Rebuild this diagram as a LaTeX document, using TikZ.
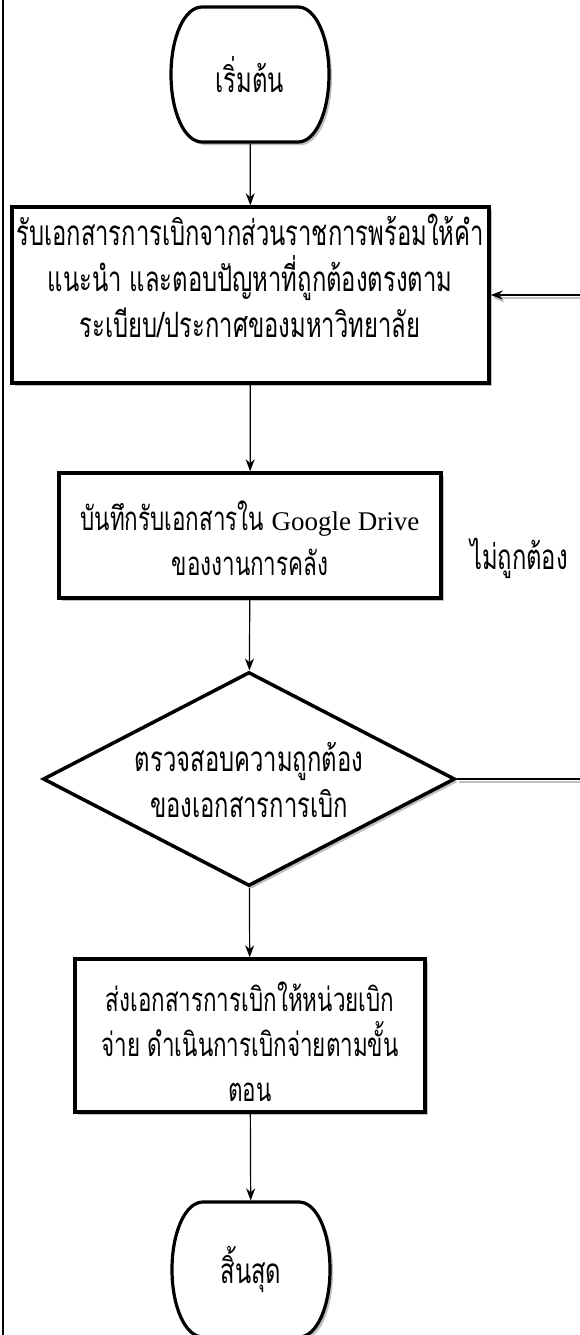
\documentclass[tikz,border=0pt]{standalone}
\usepackage{fontspec}
\newfontfamily\thai[Script=Thai,FakeStretch=0.68]{Loma}
\newfontfamily\latin{Liberation Serif}
\usetikzlibrary{arrows.meta,shadows,shapes.geometric,calc}
\newcommand\flowterm[3]{%
  \begin{scope}[shift={#1}]
    \draw[termline] (-48,-67.5) -- (48,-67.5)
      .. controls (65.7,-67.5) and (79,-37.3) .. (79,0)
      .. controls (79,37.3) and (65.7,67.5) .. (48,67.5)
      -- (-48,67.5)
      .. controls (-65.7,67.5) and (-79,37.3) .. (-79,0)
      .. controls (-79,-37.3) and (-65.7,-67.5) .. (-48,-67.5) -- cycle;
    \node[termnode] (#2) at (0,0) {#3};
  \end{scope}}
\begin{document}
\begin{tikzpicture}[x=1pt,y=-1pt,
  thaitext/.style={font=\thai\fontsize{35}{46}\selectfont,align=center},
  smallthai/.style={font=\thai\fontsize{33}{45}\selectfont,align=center},
  shadowed/.style={drop shadow={shadow xshift=3pt,shadow yshift=-3pt,fill=black!25,opacity=1}},
  termline/.style={draw=black,line width=3.2pt,fill=white,shadowed},
  termnode/.style={thaitext,draw=none,minimum width=158pt,minimum height=135pt,inner sep=0pt,outer sep=1.6pt},
  procbox/.style={draw=black,line width=3.5pt,fill=white,shadowed,inner sep=0pt},
  decision/.style={diamond,draw=black,line width=3.5pt,fill=white,shadowed,inner sep=0pt,aspect=1.93},
  arr/.style={draw=black,line width=1.2pt,-{Stealth[length=12pt,width=9pt]}},
  fb/.style={draw=black,line width=1.4pt,-{Stealth[length=12pt,width=9pt]},
    preaction={draw=black!25,line width=2pt,transform canvas={xshift=2pt,yshift=-3pt}}},
  lbl/.style={thaitext,inner sep=0pt},
  slbl/.style={smallthai,inner sep=0pt}
]
\useasboundingbox (0,0) rectangle (580,1335);
\clip (0,0) rectangle (580,1335);
\fill[white] (0,0) rectangle (580,1335);
\draw[line width=2.5pt] (3,0) -- (3,1335);

\flowterm{(250,74.5)}{start}{เริ่มต้น}

\node[procbox,minimum width=477pt,minimum height=176pt] (b1) at (250.5,295) {};
\node[lbl] (b1text) at (250,276)
  {รับเอกสารการเบิกจากส่วนราชการพร้อมให้คำ\\แนะนำ และตอบปัญหาที่ถูกต้องตรงตาม\\ระเบียบ/ประกาศของมหาวิทยาลัย};

\node[procbox,minimum width=382pt,minimum height=125pt] (b2) at (250,535.5) {};
\node[slbl] (b2text) at (250,538)
  {บันทึกรับเอกสารใน {\latin\fontsize{27}{45}\selectfont Google Drive}\\ของงานการคลัง};

\node[decision,minimum width=412pt,minimum height=214pt] (d) at (249,779) {};
\node[lbl] (dtext) at (249,780) {ตรวจสอบความถูกต้อง\\ของเอกสารการเบิก};

\node[procbox,minimum width=350pt,minimum height=153pt] (b3) at (250,1035.5) {};
\node[slbl] (b3text) at (250,1042)
  {ส่งเอกสารการเบิกให้หน่วยเบิก\\จ่าย ดำเนินการเบิกจ่ายตามขั้น\\ตอน};

\flowterm{(251,1269.5)}{stop}{สิ้นสุด}

\node[lbl] (no) at (519,558) {ไม่ถูกต้อง};

\draw[arr] (start) -- (b1);
\draw[arr] (b1) -- (b2);
\draw[arr] (b2) -- (d);
\draw[arr] (d) -- (b3);
\draw[arr] (b3) -- (stop);
\draw[fb] (d.east) -- ($(d.east)+(160,0)$) |- (b1.east);
\end{tikzpicture}
\end{document}
